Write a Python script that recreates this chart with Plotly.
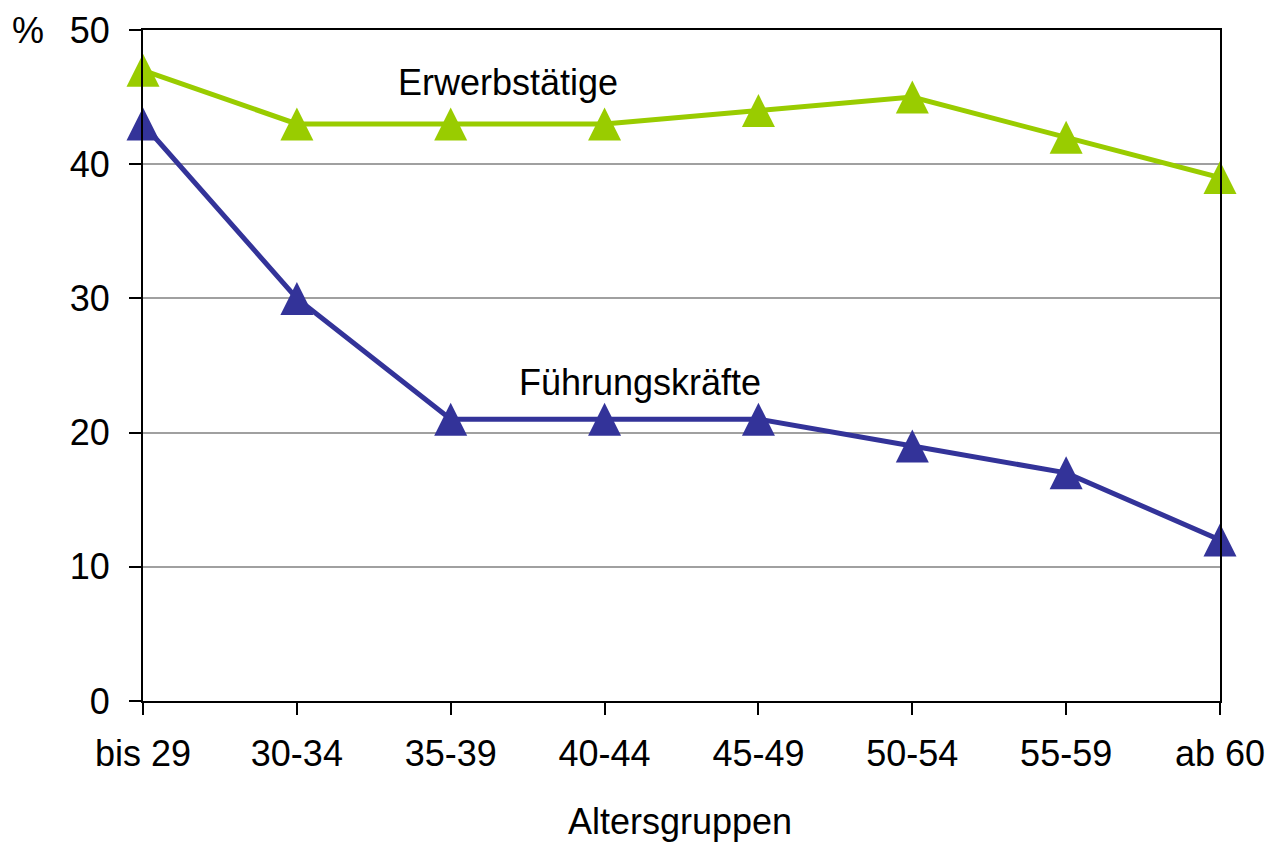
import plotly.graph_objects as go

categories = ["bis 29", "30-34", "35-39", "40-44", "45-49", "50-54", "55-59", "ab 60"]
erwerbstaetige = [47, 43, 43, 43, 44, 45, 42, 39]
fuehrungskraefte = [43, 30, 21, 21, 21, 19, 17, 12]
y_ticks = [0, 10, 20, 30, 40, 50]

FONT = "Liberation Sans, Arial, sans-serif"
FS = 36
GREEN = "#99CC00"
BLUE = "#333399"
MSIZE = 33

x_idx = list(range(len(categories)))

fig = go.Figure()
for vals, col in [(erwerbstaetige, GREEN), (fuehrungskraefte, BLUE)]:
    fig.add_trace(go.Scatter(
        x=x_idx, y=vals, mode="lines+markers",
        line=dict(color=col, width=5),
        marker=dict(symbol="arrow-down", angle=180, standoff=MSIZE / 2,
                    size=MSIZE, color=col, line=dict(width=0)),
        cliponaxis=False, showlegend=False,
    ))

fig.update_layout(
    width=1268, height=842,
    margin=dict(l=143, r=48, t=30, b=141),
    paper_bgcolor="white", plot_bgcolor="white",
    font=dict(family=FONT, size=FS, color="black"),
    xaxis=dict(
        range=[0, len(categories) - 1],
        tickmode="array", tickvals=x_idx, ticktext=categories,
        showgrid=False, zeroline=False,
        showline=True, linecolor="black", linewidth=2, mirror=True,
        ticks="outside", ticklen=12, tickwidth=2, tickcolor="black",
        ticklabelstandoff=8,
        tickfont=dict(family=FONT, size=FS, color="black"),
        automargin=False,
    ),
    yaxis=dict(
        range=[0, 50],
        tickmode="array", tickvals=y_ticks,
        showgrid=True, gridcolor="#A0A0A0", gridwidth=2,
        zeroline=False,
        showline=True, linecolor="black", linewidth=2, mirror=True,
        ticks="outside", ticklen=12, tickwidth=2, tickcolor="black",
        ticklabelstandoff=12,
        tickfont=dict(family=FONT, size=FS, color="black"),
        automargin=False,
    ),
    annotations=[
        dict(text="Erwerbstätige", x=2.37, y=46.1, xref="x", yref="y",
             xanchor="center", yanchor="middle",
             showarrow=False, font=dict(family=FONT, size=FS, color="black")),
        dict(text="Führungskräfte", x=3.23, y=23.7, xref="x", yref="y",
             xanchor="center", yanchor="middle",
             showarrow=False, font=dict(family=FONT, size=FS, color="black")),
        dict(text="%", x=-0.107, y=1.0, xref="paper", yref="paper",
             xanchor="center", yanchor="middle",
             showarrow=False, font=dict(family=FONT, size=FS, color="black")),
        dict(text="Altersgruppen", x=0.4986, y=-0.179, xref="paper", yref="paper",
             xanchor="center", yanchor="middle",
             showarrow=False, font=dict(family=FONT, size=FS, color="black")),
    ],
)

fig.write_html("out.html")
